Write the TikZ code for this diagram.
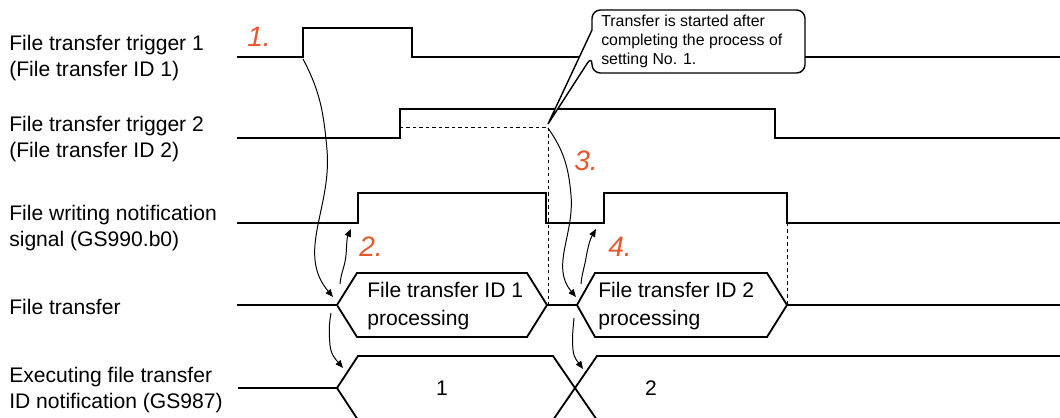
\documentclass[tikz,border=0pt]{standalone}
\usepackage{fontspec}
\setmainfont{Liberation Sans}
\usepackage{tikz}
\usetikzlibrary{arrows.meta}
\definecolor{steporange}{RGB}{232,88,45}
\tikzset{
  sig/.style={line width=1.3pt},
  bus/.style={line width=1.3pt, line join=miter},
  guide/.style={line width=0.7pt, dash pattern=on 2.4pt off 2.2pt},
  flow/.style={line width=0.7pt, -{Triangle[length=5.5pt,width=4.5pt]}},
  lbl/.style={anchor=west, align=left, inner sep=0pt, font=\fontsize{15}{19}\selectfont},
  jobtext/.style={anchor=west, align=left, inner sep=0pt, font=\fontsize{15}{20}\selectfont},
  idtext/.style={inner sep=0pt, font=\fontsize{15}{19}\selectfont},
  stepnum/.style={inner sep=0pt, text=steporange, font=\fontsize{20}{20}\selectfont\itshape},
  callout/.style={line width=1pt, fill=white, line join=bevel},
  notetext/.style={anchor=west, align=left, inner sep=0pt, font=\fontsize{11.3}{13.5}\selectfont},
}
\begin{document}
\begin{tikzpicture}[x=0.025cm, y=-0.025cm]
  \useasboundingbox (0,0) rectangle (1060,417);
  \clip (0,0) rectangle (1060,417);
  \node[lbl] (lab1) at (9,58)  {File transfer trigger 1\\(File transfer ID 1)};
  \node[lbl] (lab2) at (9,139) {File transfer trigger 2\\(File transfer ID 2)};
  \node[lbl] (lab3) at (9,228) {File writing notification\\signal (GS990.b0)};
  \node[lbl] (lab4) at (9,307) {File transfer};
  \node[lbl] (lab5) at (9,390) {Executing file transfer\\ID notification (GS987)};
  % signals
  \draw[sig] (237,57) -- (303,57) -- (303,28) -- (412,28) -- (412,57) -- (1060,57);
  \draw[sig] (237,138) -- (400,138) -- (400,109) -- (775,109) -- (775,138) -- (1060,138);
  \draw[sig] (237,223) -- (358,223) -- (358,193) -- (546,193) -- (546,223) -- (604,223)
    -- (604,193) -- (787,193) -- (787,223) -- (1060,223);
  \draw[guide] (400,127) -- (548,127) -- (548,305);
  \draw[guide] (787,223) -- (787,305);
  % file transfer
  \draw[bus] (237,305) -- (337,305);
  \draw[bus] (337,305) -- (357,273) -- (527,273) -- (547,305) -- (527,337) -- (357,337) -- cycle;
  \draw[bus] (547,305) -- (577,305);
  \draw[bus] (577,305) -- (595,273) -- (767,273) -- (787,305) -- (767,337) -- (595,337) -- cycle;
  \draw[bus] (787,305) -- (1060,305);
  \node[jobtext] (job1) at (367,306) {File transfer ID 1\\processing};
  \node[jobtext] (job2) at (598,306) {File transfer ID 2\\processing};
  % executing ID
  \draw[bus] (238,388) -- (337,388) -- (358,356) -- (553,356) -- (597,420) -- (1060,420);
  \draw[bus] (337,388) -- (358,420) -- (553,420) -- (597,356) -- (1060,356);
  \node[idtext] (id1) at (442,388) {1};
  \node[idtext] (id2) at (651,388) {2};
  % flow
  \coordinate (t1rise) at (303,59);
  \coordinate (b1in) at (333,297);
  \coordinate (b1out) at (340,284);
  \coordinate (n1rise) at (351,229);
  \coordinate (tip) at (548,124);
  \coordinate (t2hold) at (548,128);
  \coordinate (b2in) at (576,297);
  \coordinate (b2out) at (581,284);
  \coordinate (n2rise) at (596,229);
  \coordinate (b1low) at (331,313);
  \coordinate (x1in) at (343,368);
  \coordinate (b2low) at (574,318);
  \coordinate (x2in) at (583,369);
  \draw[flow] (t1rise) to[out=-62,in=95] (327,150) to[out=-85,in=130] (b1in);
  \draw[flow] (b1out) to[out=85,in=-95] (346,255) to[out=85,in=-115] (n1rise);
  \draw[flow] (t2hold) to[out=-55,in=95] (571,195) to[out=-85,in=130] (b2in);
  \draw[flow] (b2out) to[out=85,in=-100] (586,258) to[out=80,in=-120] (n2rise);
  \draw[flow] (b1low) to[out=-100,in=95] (330,345) to[out=-85,in=130] (x1in);
  \draw[flow] (b2low) to[out=-95,in=95] (573,350) to[out=-85,in=125] (x2in);
  \foreach \n/\x/\y in {1/259/37,2/371/247,3/586/161,4/620/247}
    \node[stepnum] (s\n) at (\x,\y) {\n.};
  % note
  \draw[callout] (tip) -- (592,30) [rounded corners=6pt] -- (592,10) -- (805,10) -- (805,73)
    -- (592,73) -- (592,56) [sharp corners] -- cycle;
  \node[notetext] (note) at (601,41) {Transfer is started after\\completing the process of\\setting No. 1.};
\end{tikzpicture}
\end{document}
